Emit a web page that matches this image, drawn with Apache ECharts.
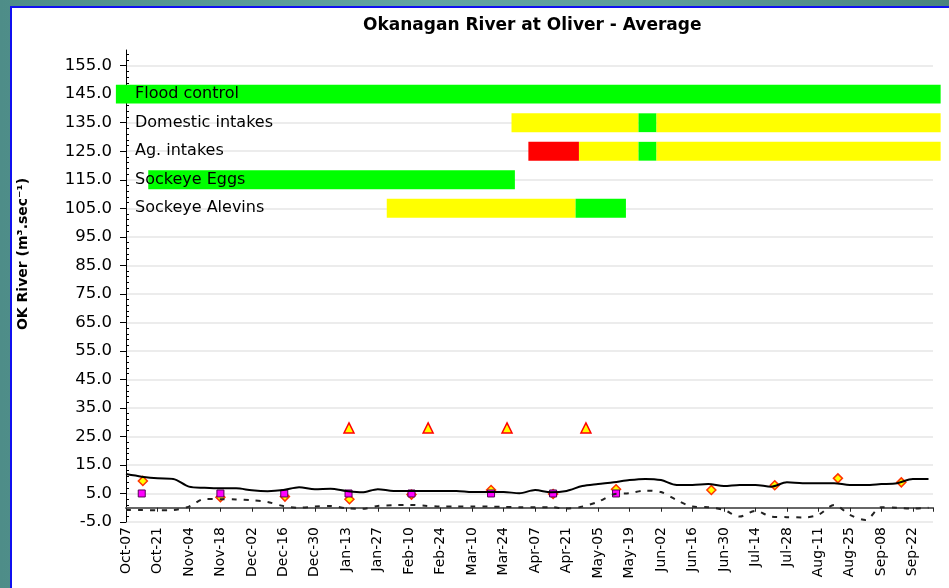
<!DOCTYPE html>
<html>
<head>
<meta charset="utf-8">
<script src="https://cdn.jsdelivr.net/npm/echarts@6/dist/echarts.min.js"></script>
<style>
html, body { margin: 0; padding: 0; }
body {
    width: 949px; height: 588px; overflow: hidden; position: relative;
    background: linear-gradient(to right, #4e8d88 0%, #63a5a3 45%, #5e9d9a 70%, #4a837e 100%);
}
#panel {
    position: absolute; left: 10px; top: 6px; right: 0; bottom: 0;
    background: #fff; border-left: 2px solid #1010f0; border-top: 2px solid #1010f0;
}
#main { position: absolute; left: 0; top: 0; width: 949px; height: 588px; }
</style>
</head>
<body>
<div id="panel"></div>
<div id="main"></div>
<script>
var myChart = echarts.init(document.getElementById('main'));

// x = days since Oct-07, ticks every 14 days
var dateLabels = ['Oct-07', 'Oct-21', 'Nov-04', 'Nov-18', 'Dec-02', 'Dec-16', 'Dec-30', 'Jan-13',
    'Jan-27', 'Feb-10', 'Feb-24', 'Mar-10', 'Mar-24', 'Apr-07', 'Apr-21', 'May-05', 'May-19',
    'Jun-02', 'Jun-16', 'Jun-30', 'Jul-14', 'Jul-28', 'Aug-11', 'Aug-25', 'Sep-08', 'Sep-22'];

// weekly average flow (solid) and weekly min/diff (dashed)
var flowAvg = [11.8, 10.9, 10.3, 10.1, 7.4, 7.0, 6.8, 6.8, 6.1, 5.8, 6.2, 7.2, 6.5, 6.7, 5.9, 5.4,
    6.5, 5.9, 5.9, 5.9, 5.9, 5.9, 5.5, 5.5, 5.5, 5.1, 6.2, 5.4, 5.9, 7.6, 8.3, 8.9, 9.7, 10.1,
    9.7, 8.0, 8.0, 8.3, 7.6, 8.0, 8.0, 7.4, 8.9, 8.6, 8.6, 8.6, 8.0, 8.0, 8.3, 8.6, 10.1, 10.1];
var flowDash = [-0.8, -0.8, -0.9, -0.8, 0.4, 3.1, 3.0, 2.9, 2.6, 2.0, 0.6, 0.0, 0.4, 0.6, -0.2, -0.4,
    0.6, 0.9, 1.0, 0.7, 0.4, 0.4, 0.4, 0.4, 0.3, 0.2, 0.2, 0.2, -0.3, 0.4, 2.1, 4.7, 5.1, 6.0,
    5.5, 2.7, 0.4, 0.2, -0.8, -3.1, -1.1, -3.1, -3.3, -3.4, -2.5, 1.0, -2.5, -4.3, 0.2, 0.0, -0.3, 0.0];

// [day, value]
var diamonds = [[7.5, 9.4], [42, 3.7], [70.7, 3.9], [99.4, 3.0], [127, 4.6], [162.4, 6.2],
    [190, 4.8], [218, 6.5], [260.4, 6.2], [288.6, 7.9], [316.7, 10.3], [344.9, 8.9]];
var squares = [[7, 5.0], [42, 5.0], [70.4, 5.0], [99, 5.0], [127, 5.0], [162.4, 5.0], [190, 5.0], [218, 5.0]];
var triangles = [[99.2, 28], [134.4, 28], [169.5, 28], [204.6, 28]];

// status bars
var rowNames = ['Flood control', 'Domestic intakes', 'Ag. intakes', 'Sockeye Eggs', 'Sockeye Alevins'];
var rowLevels = [145, 135, 125, 115, 105];
// [row, startDay, endDay, status]
var segments = [
    [0, -4.5, 362.4, 'ok'],
    [1, 171.5, 228, 'caution'], [1, 228, 236, 'ok'], [1, 236, 362.4, 'caution'],
    [2, 179, 201.5, 'critical'], [2, 201.5, 228, 'caution'], [2, 228, 236, 'ok'], [2, 236, 362.4, 'caution'],
    [3, 9.9, 173, 'ok'],
    [4, 116, 200, 'caution'], [4, 200, 222.4, 'ok']
];

var statusColor = { ok: '#00ff00', caution: '#ffff00', critical: '#ff0000' };
var font = 'DejaVu Sans';

var lineData = flowAvg.map(function (v, i) { return [i * 7, v]; });
var dashData = flowDash.map(function (v, i) { return [i * 7, v]; });
var barData = segments.map(function (s) {
    return { value: [s[1], s[2], rowLevels[s[0]]], itemStyle: { color: statusColor[s[3]] } };
});
var labelData = rowNames.map(function (n, i) { return [4, rowLevels[i], n]; });

var gridColors = [];
for (var i = 0; i < 17; i++) gridColors.push('#e6e6e6');
gridColors.push('rgba(0,0,0,0)');

var option = {
    animation: false,
    title: {
        text: 'Okanagan River at Oliver - Average',
        left: 358,
        top: 12,
        textStyle: { fontFamily: font, fontWeight: 'bold', fontSize: 17, color: '#000' }
    },
    grid: { left: 126, right: 16, top: 50, bottom: 66 },
    xAxis: [{
        type: 'value',
        min: 0, max: 359, interval: 14,
        axisLine: { show: false, onZero: false },
        axisTick: { show: false },
        splitLine: { show: false },
        axisLabel: {
            rotate: 90, margin: 5, showMaxLabel: false,
            fontFamily: font, fontSize: 14, color: '#000',
            formatter: function (v) { return dateLabels[Math.round(v / 14)] || ''; }
        }
    }, {
        type: 'value',
        min: 0, max: 359, interval: 14,
        position: 'bottom',
        axisLine: { show: true, onZero: true, onZeroAxisIndex: 0, lineStyle: { color: '#666', width: 2 } },
        axisTick: { show: true, length: 4, lineStyle: { color: '#222' } },
        axisLabel: { show: false },
        splitLine: { show: false }
    }],
    yAxis: [{
        type: 'value',
        min: -5, max: 160.5, interval: 10,
        name: 'OK River (m³.sec⁻¹)',
        nameLocation: 'middle',
        nameGap: 96,
        nameTextStyle: { fontFamily: font, fontWeight: 'bold', fontSize: 14, color: '#000', padding: [0, 0, 0, 64] },
        axisLine: { show: true, onZero: false, lineStyle: { color: '#000', width: 1 } },
        axisTick: { show: true, length: 6, lineStyle: { color: '#000' } },
        axisLabel: {
            showMaxLabel: false, margin: 14,
            fontFamily: font, fontSize: 16.5, color: '#000',
            formatter: function (v) { return v.toFixed(1); }
        },
        splitLine: { show: true, lineStyle: { color: gridColors, width: 1.5 } }
    }, {
        type: 'value',
        min: -5, max: 160.5, interval: 10,
        position: 'left',
        axisLine: { show: false, onZero: false },
        axisTick: { show: false, inside: true },
        minorTick: { show: true, splitNumber: 5, length: 3, lineStyle: { color: '#000' } },
        axisLabel: { show: false },
        splitLine: { show: false }
    }],
    series: [{
        type: 'custom',
        name: 'bars',
        silent: true,
        clip: false,
        data: barData,
        encode: { x: [0, 1], y: 2 },
        renderItem: function (params, api) {
            var p0 = api.coord([api.value(0), api.value(2) + 3.3]);
            var p1 = api.coord([api.value(1), api.value(2) - 3.3]);
            return {
                type: 'rect',
                shape: { x: p0[0], y: p0[1], width: p1[0] - p0[0], height: p1[1] - p0[1] },
                style: { fill: api.visual('color') }
            };
        }
    }, {
        type: 'scatter',
        name: 'bar labels',
        silent: true,
        symbolSize: 0,
        data: labelData,
        itemStyle: { opacity: 1 },
        label: {
            show: true, position: 'right', distance: 0,
            fontFamily: font, fontSize: 16, color: '#000', opacity: 1,
            formatter: function (p) { return p.value[2]; }
        }
    }, {
        type: 'line',
        name: 'dashed',
        data: dashData,
        showSymbol: false,
        smooth: 0.3,
        lineStyle: { color: '#222', width: 2, type: [5, 7] }
    }, {
        type: 'line',
        name: 'average',
        data: lineData,
        showSymbol: false,
        smooth: 0.3,
        lineStyle: { color: '#000', width: 2 }
    }, {
        type: 'scatter',
        name: 'diamonds',
        symbol: 'diamond',
        symbolSize: 9,
        data: diamonds,
        itemStyle: { color: '#ffff00', borderColor: '#ff3300', borderWidth: 1.5, opacity: 1 }
    }, {
        type: 'scatter',
        name: 'squares',
        symbol: 'rect',
        symbolSize: 7,
        data: squares,
        itemStyle: { color: '#ff00ff', borderColor: '#550055', borderWidth: 1, opacity: 1 }
    }, {
        type: 'scatter',
        name: 'triangles',
        symbol: 'triangle',
        symbolSize: 10,
        data: triangles,
        itemStyle: { color: '#ffff00', borderColor: '#ff0000', borderWidth: 1.5, opacity: 1 }
    }]
};

myChart.setOption(option);
</script>
</body>
</html>
